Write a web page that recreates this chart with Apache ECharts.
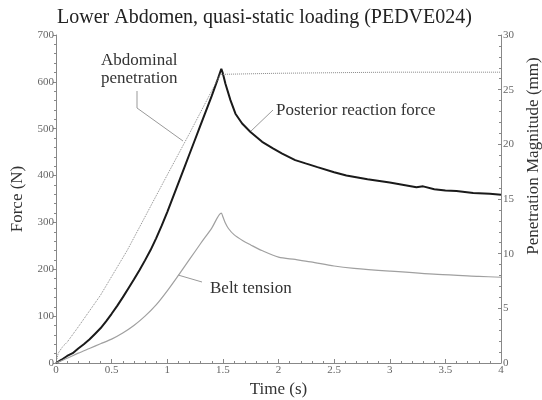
<!DOCTYPE html>
<html>
<head>
<meta charset="utf-8">
<script src="https://cdn.jsdelivr.net/npm/echarts@6/dist/echarts.min.js"></script>
<style>
  html, body { margin: 0; padding: 0; background: #fff; }
  #chart { width: 542px; height: 400px; }
</style>
</head>
<body>
<div id="chart"></div>
<script>
// time (s) and values
var forceTime = [0, 0.05, 0.1, 0.15, 0.2, 0.25, 0.3, 0.35, 0.4, 0.45, 0.5, 0.55, 0.6, 0.65, 0.7, 0.75, 0.8, 0.85,
  0.9, 0.95, 1.0, 1.05, 1.1, 1.15, 1.2, 1.25, 1.3, 1.35, 1.4, 1.45, 1.486,
  1.5, 1.523, 1.568, 1.613, 1.673, 1.748, 1.853, 1.95, 2.033, 2.15, 2.243, 2.35, 2.5, 2.61, 2.8, 3.0,
  3.24, 3.3, 3.4, 3.5, 3.6, 3.75, 3.9, 4.0];
var forceVal = [0, 7, 15, 21, 31, 40, 50, 62, 74, 89, 105, 122, 140, 159, 178, 198, 219, 241,
  266, 293, 322, 353, 384, 415, 446, 477, 508, 539, 570, 603, 628,
  618, 596, 561, 532, 511, 493, 472, 458, 447, 433, 426, 418, 407, 400, 392, 385,
  375, 377, 371, 368, 367, 363, 361, 359];

var beltTime = [0, 0.1, 0.2, 0.3, 0.4, 0.5, 0.6, 0.7, 0.8, 0.9, 1.0, 1.1, 1.2, 1.3, 1.4, 1.486,
  1.5, 1.52, 1.55, 1.6, 1.68, 1.75, 1.85, 2.0, 2.15, 2.29, 2.5, 2.68, 3.0, 3.43, 3.8, 4.0];
var beltVal = [0, 10, 21, 31, 41, 51, 64, 80, 100, 124, 154, 187, 221, 255, 288, 320,
  312, 300, 287, 274, 261, 252, 240, 226, 221, 216, 207, 202, 196, 189, 185, 183];

var penTime = [0, 0.02, 0.06, 0.1, 0.2, 0.4, 0.64, 0.88, 1.0, 1.2, 1.477, 2.0, 3.0, 4.0];
var penVal = [0, 0.9, 1.5, 1.9, 3.3, 6.2, 10.3, 14.9, 17.2, 21.0, 26.4, 26.5, 26.6, 26.6];

var xTicks = [0, 0.5, 1, 1.5, 2, 2.5, 3, 3.5, 4];

function pairs(t, v) {
  return t.map(function (x, i) { return [x, v[i]]; });
}

var serif = "'Liberation Serif', 'DejaVu Serif', serif";
var axisGray = '#888';
var labelStyle = { fontFamily: serif, fontSize: 11, color: '#666' };
var nameStyle = { fontFamily: serif, fontSize: 17, color: '#333' };

var chart = echarts.init(document.getElementById('chart'));
chart.setOption({
  animation: false,
  title: {
    text: 'Lower Abdomen, quasi-static loading (PEDVE024)',
    left: 52,
    top: 3,
    textStyle: { fontFamily: serif, fontSize: 20, fontWeight: 'normal', color: '#222' }
  },
  grid: { left: 56, right: 41, top: 35, bottom: 37, outerBoundsMode: 'none', containLabel: false },
  xAxis: {
    type: 'value',
    min: 0, max: 4, interval: 0.5,
    name: 'Time (s)',
    nameLocation: 'middle',
    nameGap: 16,
    nameTextStyle: nameStyle,
    axisLine: { lineStyle: { color: axisGray } },
    axisTick: { inside: true, length: 4, lineStyle: { color: axisGray } },
    minorTick: { show: true, splitNumber: 5, length: 2, lineStyle: { color: axisGray } },
    splitLine: { show: false },
    axisLabel: Object.assign({ margin: 2, formatter: function (v) { return xTicks.indexOf(v) >= 0 ? String(v) : ''; } }, labelStyle)
  },
  yAxis: [{
    type: 'value',
    min: 0, max: 700, interval: 100,
    name: 'Force (N)',
    nameLocation: 'middle',
    nameRotate: 90,
    nameGap: 30,
    nameTextStyle: nameStyle,
    axisLine: { show: true, lineStyle: { color: axisGray } },
    axisTick: { show: true, length: 3, lineStyle: { color: axisGray } },
    minorTick: { show: true, splitNumber: 5, length: 2, lineStyle: { color: axisGray } },
    splitLine: { show: false },
    axisLabel: Object.assign({ margin: 2 }, labelStyle)
  }, {
    type: 'value',
    position: 'right',
    min: 0, max: 30, interval: 5,
    name: 'Penetration Magnitude (mm)',
    nameLocation: 'middle',
    nameRotate: 90,
    nameGap: 19,
    nameTextStyle: Object.assign({ padding: [0, 0, 0, 86] }, nameStyle),
    axisLine: { show: true, lineStyle: { color: axisGray } },
    axisTick: { show: true, inside: true, length: 3, lineStyle: { color: axisGray } },
    minorTick: { show: true, splitNumber: 5, length: 2, lineStyle: { color: axisGray } },
    splitLine: { show: false },
    axisLabel: Object.assign({ margin: 2 }, labelStyle)
  }],
  series: [{
    name: 'Posterior reaction force',
    type: 'line',
    showSymbol: false,
    data: pairs(forceTime, forceVal),
    lineStyle: { color: '#1a1a1a', width: 2 },
    itemStyle: { color: '#1a1a1a' }
  }, {
    name: 'Belt tension',
    type: 'line',
    showSymbol: false,
    smooth: 0.3,
    data: pairs(beltTime, beltVal),
    lineStyle: { color: '#a0a0a0', width: 1.2 },
    itemStyle: { color: '#a0a0a0' }
  }, {
    name: 'Abdominal penetration',
    type: 'line',
    yAxisIndex: 1,
    showSymbol: false,
    data: pairs(penTime, penVal),
    lineStyle: { color: '#888', width: 1, type: 'dotted' },
    itemStyle: { color: '#888' }
  }],
  graphic: [
    { type: 'text', left: 101, top: 52,
      style: { text: 'Abdominal\npenetration', fontFamily: serif, fontSize: 17, lineHeight: 18, fill: '#333' } },
    { type: 'polyline', shape: { points: [[137, 91], [137, 108], [183, 141]] },
      style: { stroke: '#999', lineWidth: 1, fill: null } },
    { type: 'text', left: 276, top: 102,
      style: { text: 'Posterior reaction force', fontFamily: serif, fontSize: 17, fill: '#333' } },
    { type: 'line', shape: { x1: 273, y1: 110, x2: 250, y2: 132 },
      style: { stroke: '#999', lineWidth: 1 } },
    { type: 'text', left: 210, top: 280,
      style: { text: 'Belt tension', fontFamily: serif, fontSize: 17, fill: '#333' } },
    { type: 'line', shape: { x1: 202, y1: 282, x2: 178, y2: 275 },
      style: { stroke: '#999', lineWidth: 1 } }
  ]
});
</script>
</body>
</html>
